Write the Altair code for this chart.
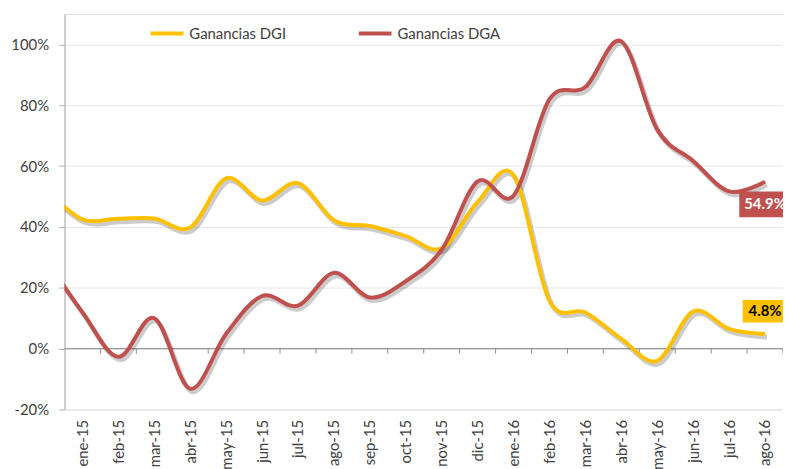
import altair as alt
import pandas as pd

months = ["ene-15", "feb-15", "mar-15", "abr-15", "may-15", "jun-15", "jul-15",
          "ago-15", "sep-15", "oct-15", "nov-15", "dic-15", "ene-16", "feb-16",
          "mar-16", "abr-16", "may-16", "jun-16", "jul-16", "ago-16"]
dgi = [42.5, 42.7, 42.8, 39.8, 56.0, 48.7, 54.4, 42.2, 40.3, 37.0,
       33.0, 48.2, 57.0, 15.7, 11.9, 3.2, -4.0, 12.2, 6.5, 4.8]
dga = [11.9, -2.7, 10.0, -13.2, 4.9, 17.3, 14.1, 24.9, 16.8, 22.2,
       32.5, 55.0, 50.3, 82.0, 86.0, 101.0, 72.0, 61.7, 51.7, 54.9]
# previous month (dic-14), only the part up to the left edge is visible
prev_dgi = 52.0
prev_dga = 29.0

series_names = ["Ganancias DGI", "Ganancias DGA"]
series_colors = ["#FFC000", "#C0504D"]
y_ticks = [-20, 0, 20, 40, 60, 80, 100]
FONT = "Lato"

rows = []
for name, prev, vals in [(series_names[0], prev_dgi, dgi), (series_names[1], prev_dga, dga)]:
    rows.append({"idx": -1, "serie": name, "v": prev})
    for i, v in enumerate(vals):
        rows.append({"idx": i, "serie": name, "v": v})
df = pd.DataFrame(rows)

bounds = pd.DataFrame({"idx": [i + 0.5 for i in range(len(months))], "v": 0})
zero = pd.DataFrame({"v": [0]})
last = len(months) - 1
ends = pd.DataFrame({
    "idx": [last, last],
    "v": [dgi[-1], dga[-1]],
    "serie": series_names,
})

label_expr = "[" + ",".join("'%s'" % m for m in months) + "][datum.value]"

xscale = alt.Scale(domain=[-0.5, len(months) - 0.5], nice=False, zero=False)
yscale = alt.Scale(domain=[-20, 110], nice=False, zero=False)

xa = alt.Axis(
    values=list(range(len(months))), labelExpr=label_expr, labelAngle=-90,
    ticks=False, domain=False, grid=False, labelPadding=10, labelFontSize=15,
    labelColor="#404040", title=None, labelOverlap=False, labelFont=FONT)
ya = alt.Axis(
    values=y_ticks, labelExpr="datum.value + '%'", tickSize=6, labelPadding=10,
    domainColor="#B0B0B0", tickColor="#B0B0B0", gridColor="#E6E6E6",
    labelFontSize=15, labelColor="#404040", title=None, labelFont=FONT)

x_enc = alt.X("idx:Q", scale=xscale, axis=xa)
y_enc = alt.Y("v:Q", scale=yscale, axis=ya)

zero_line = alt.Chart(zero).mark_rule(color="#8C8C8C", strokeWidth=1).encode(y=y_enc)

ticks = alt.Chart(bounds).mark_rule(color="#8C8C8C", strokeWidth=1, y2Offset=5).encode(
    x=x_enc, y=y_enc, y2="v:Q")

shadow = alt.Chart(df).mark_line(
    interpolate="cardinal", strokeWidth=5, color="black", opacity=0.2,
    xOffset=2, yOffset=3, clip=True).encode(
    x=x_enc, y=y_enc, detail="serie:N", order=alt.Order("idx:Q"))

lines = alt.Chart(df).mark_line(interpolate="cardinal", strokeWidth=4, clip=True).encode(
    x=x_enc, y=y_enc,
    color=alt.Color("serie:N", scale=alt.Scale(domain=series_names, range=series_colors),
                    legend=alt.Legend(orient="none", legendX=85, legendY=1,
                                      direction="horizontal", title=None,
                                      symbolType="stroke", symbolStrokeWidth=4,
                                      symbolSize=1089, labelFontSize=15,
                                      labelColor="#404040", labelFont=FONT,
                                      columnPadding=65, labelOffset=4)),
    order=alt.Order("idx:Q"))

box_shape = "M-1,-0.5H1V0.5H-1Z"

red_box = alt.Chart(ends).transform_filter(
    alt.datum.serie == series_names[1]).mark_point(
    shape=box_shape, filled=True, size=2704, opacity=1, color=series_colors[1],
    yOffset=23, strokeWidth=0).encode(x=x_enc, y=y_enc)
red_txt = alt.Chart(ends).transform_filter(
    alt.datum.serie == series_names[1]).transform_calculate(
    lab="format(datum.v, '.1f') + '%'").mark_text(
    color="white", fontWeight="bold", fontSize=15, font=FONT, dy=23, baseline="middle").encode(
    x=x_enc, y=y_enc, text="lab:N")

yel_box = alt.Chart(ends).transform_filter(
    alt.datum.serie == series_names[0]).mark_point(
    shape=box_shape, filled=True, size=2025, opacity=1, color=series_colors[0],
    yOffset=-23, strokeWidth=0).encode(x=x_enc, y=y_enc)
yel_txt = alt.Chart(ends).transform_filter(
    alt.datum.serie == series_names[0]).transform_calculate(
    lab="format(datum.v, '.1f') + '%'").mark_text(
    color="black", fontWeight="bold", fontSize=15, font=FONT, dy=-23, baseline="middle").encode(
    x=x_enc, y=y_enc, text="lab:N")

chart = alt.layer(zero_line, ticks, shadow, lines, red_box, red_txt, yel_box, yel_txt).properties(
    width=725, height=399,
    autosize=alt.AutoSizeParams(type="none"),
    padding={"left": 57, "top": 4, "right": 0, "bottom": 58},
    background="white",
).configure_view(strokeWidth=0).configure(font=FONT)

chart.save("out.html", embed_options={"renderer": "svg", "actions": False})
